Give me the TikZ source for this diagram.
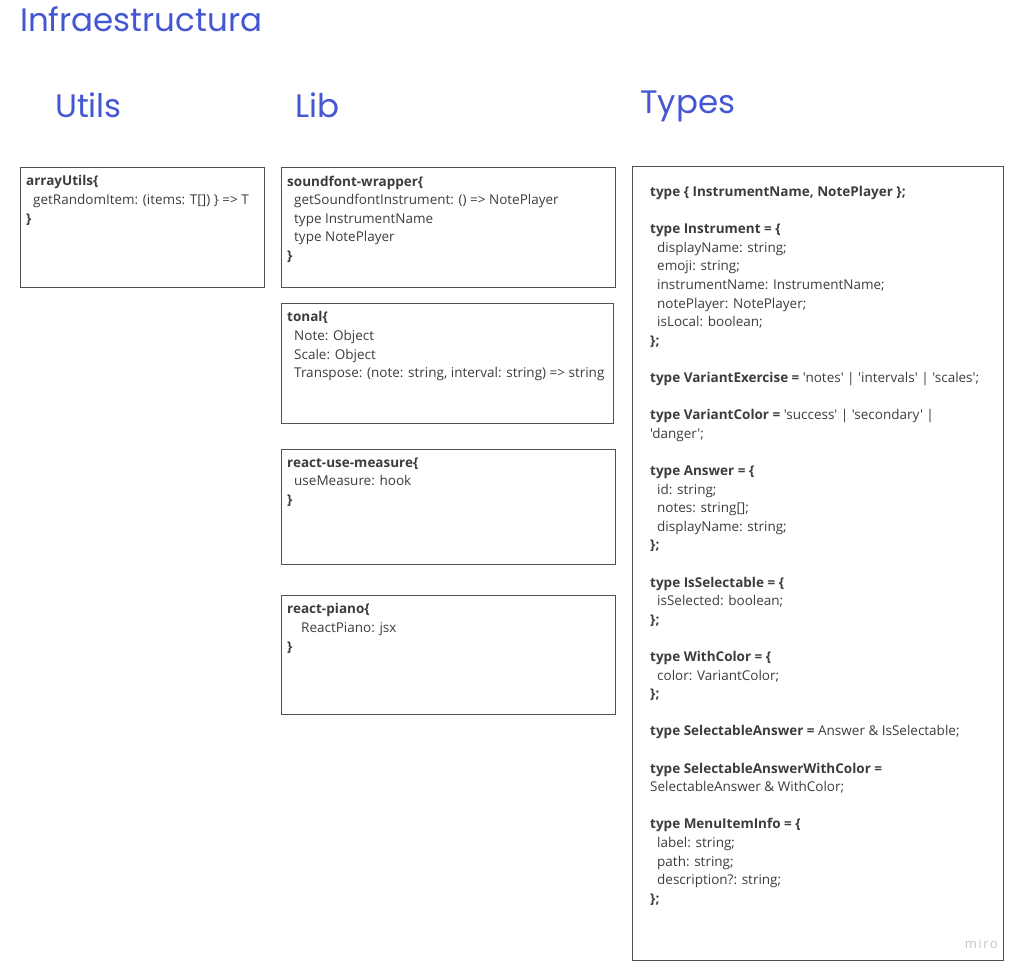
\documentclass[tikz,border=0pt]{standalone}
\usepackage{fontspec}
\setmainfont{Open Sans}[Ligatures=TeXOff]
\newfontfamily\titlefont{Poppins}
\newfontfamily\markfont{Open Sans}[LetterSpace=12]
\usetikzlibrary{positioning}
\definecolor{TITLE_BLUE}{HTML}{4456D2}
\definecolor{BOX_LINE}{HTML}{505050}
\definecolor{CODE_TEXT}{HTML}{3C3C3C}
\definecolor{MARK_GRAY}{HTML}{C4C4C4}
\tikzstyle{title} = [font=\titlefont\fontsize{32.5}{38}\selectfont, text=TITLE_BLUE, inner sep=0, anchor=base west]
\tikzstyle{section} = [title, font=\titlefont\fontsize{32.5}{38}\selectfont]
\tikzstyle{module} = [rectangle, draw=BOX_LINE, line width=0.9pt, outer sep=0, anchor=north west, minimum width=334pt, minimum height=120pt]
\tikzstyle{code} = [font=\fontsize{13.5}{18.6}\selectfont, text=CODE_TEXT, align=left, inner sep=0]
\newcommand{\ind}{\hspace*{7pt}}
\newcommand{\gap}{\\[18.6pt]}

\begin{document}
\begin{tikzpicture}[x=1pt, y=-1pt]
      \useasboundingbox (0,0) rectangle (1021,978);

      % headings
      \node[title] (infra) at (20,31) {Infraestructura};
      \node[section] (utils) at (55,117) {Utils};
      \node[section] (lib) at (295,117) {Lib};
      \node[section] (types) at (640,113) {Types};

      %%%%%%%%%%%%%%%%%%%%%%%%%%%%%%%%%%%%%%%%%%%%%%%%%
      % UTILS
      %%%%%%%%%%%%%%%%%%%%%%%%%%%%%%%%%%%%%%%%%%%%%%%%%
      \node[module, minimum width=244pt] (arrayutils) at (20,167) {};
      \node[code, below right=8.5pt and 6pt of arrayutils.north west] (arrayutilstxt)
        {\textbf{arrayUtils\{}\\ \ind getRandomItem: (items: T[]) \} => T\\ \textbf{\}}};

      %%%%%%%%%%%%%%%%%%%%%%%%%%%%%%%%%%%%%%%%%%%%%%%%%
      % LIB
      %%%%%%%%%%%%%%%%%%%%%%%%%%%%%%%%%%%%%%%%%%%%%%%%%
      % soundfont-wrapper
      \node[module] (soundfont) at (281,167) {};
      \node[code, below right=8.5pt and 6pt of soundfont.north west] (soundfonttxt)
        {\textbf{soundfont-wrapper\{}\\ \ind getSoundfontInstrument: () => NotePlayer\\
         \ind type InstrumentName\\ \ind type NotePlayer\\ \textbf{\}}};

      % tonal
      \node[module, minimum width=332pt, below=16pt of soundfont.south west, anchor=north west] (tonal) {};
      \node[code, below right=8.5pt and 6pt of tonal.north west] (tonaltxt)
        {\textbf{tonal\{}\\ \ind Note: Object\\ \ind Scale: Object\\
         \ind Transpose: (note: string, interval: string) => string};

      % react-use-measure
      \node[module, minimum height=115pt, below=26pt of tonal.south west, anchor=north west] (measure) {};
      \node[code, below right=8.5pt and 6pt of measure.north west] (measuretxt)
        {\textbf{react-use-measure\{}\\ \ind useMeasure: hook\\ \textbf{\}}};

      % react-piano
      \node[module, minimum height=119pt, below=31pt of measure.south west, anchor=north west] (piano) {};
      \node[code, below right=8.5pt and 6pt of piano.north west] (pianotxt)
        {\textbf{react-piano\{}\\ \ind\ind ReactPiano: jsx\\ \textbf{\}}};

      %%%%%%%%%%%%%%%%%%%%%%%%%%%%%%%%%%%%%%%%%%%%%%%%%
      % TYPES
      %%%%%%%%%%%%%%%%%%%%%%%%%%%%%%%%%%%%%%%%%%%%%%%%%
      \node[module, minimum width=371pt, minimum height=794pt] (typesbox) at (632,166) {};
      \node[code, below right=20pt and 18pt of typesbox.north west] (typestxt)
        {\textbf{type \{ InstrumentName, NotePlayer \};}\gap
         \textbf{type Instrument = \{}\\ \ind displayName: string;\\ \ind emoji: string;\\
         \ind instrumentName: InstrumentName;\\ \ind notePlayer: NotePlayer;\\
         \ind isLocal: boolean;\\ \textbf{\};}\gap
         \textbf{type VariantExercise =} 'notes' | 'intervals' | 'scales';\gap
         \textbf{type VariantColor =} 'success' | 'secondary' |\\ 'danger';\gap
         \textbf{type Answer = \{}\\ \ind id: string;\\ \ind notes: string[];\\
         \ind displayName: string;\\ \textbf{\};}\gap
         \textbf{type IsSelectable = \{}\\ \ind isSelected: boolean;\\ \textbf{\};}\gap
         \textbf{type WithColor = \{}\\ \ind color: VariantColor;\\ \textbf{\};}\gap
         \textbf{type SelectableAnswer =} Answer \& IsSelectable;\gap
         \textbf{type SelectableAnswerWithColor =}\\ SelectableAnswer \& WithColor;\gap
         \textbf{type MenuItemInfo = \{}\\ \ind label: string;\\ \ind path: string;\\
         \ind description?: string;\\ \textbf{\};}};

      \node[font=\markfont\fontsize{13}{15}\selectfont, text=MARK_GRAY, inner sep=0, anchor=base east,
            above left=11pt and 5pt of typesbox.south east] (miro) {miro};
\end{tikzpicture}
\end{document}
